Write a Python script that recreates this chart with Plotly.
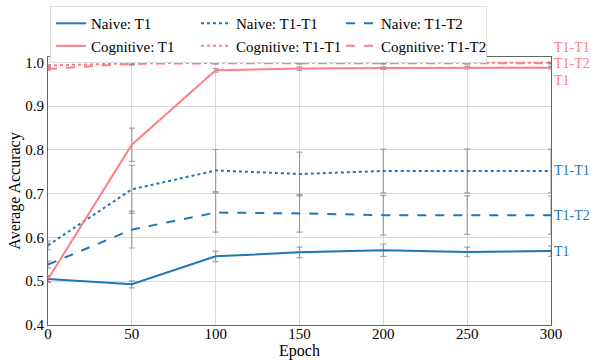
import plotly.graph_objects as go

epochs = [0, 50, 100, 150, 200, 250, 300]

naive_t1 = [0.505, 0.493, 0.557, 0.566, 0.571, 0.567, 0.569]
naive_t1_err = [0.006, 0.008, 0.012, 0.012, 0.014, 0.011, 0.012]
naive_t1t1 = [0.582, 0.710, 0.753, 0.745, 0.752, 0.752, 0.752]
naive_t1t1_err = [0.010, 0.055, 0.048, 0.050, 0.050, 0.050, 0.050]
naive_t1t2 = [0.538, 0.618, 0.657, 0.655, 0.651, 0.651, 0.651]
naive_t1t2_err = [0.008, 0.042, 0.045, 0.043, 0.045, 0.044, 0.044]

cog_t1 = [0.505, 0.812, 0.982, 0.986, 0.987, 0.988, 0.988]
cog_t1_err = [0.008, 0.038, 0.004, 0.004, 0.003, 0.003, 0.003]
cog_t1t1 = [0.993, 0.998, 0.999, 0.999, 0.999, 0.999, 0.999]
cog_t1t1_err = [0.002, 0.002, 0.001, 0.001, 0.001, 0.001, 0.001]
cog_t1t2 = [0.985, 0.997, 0.998, 0.998, 0.998, 0.998, 0.998]
cog_t1t2_err = [0.003, 0.003, 0.002, 0.002, 0.002, 0.002, 0.002]

BLUE = "#1f77b4"
PINK = "#ff7f87"
ERR = "rgba(120,120,120,0.65)"
FONT = "Times New Roman"

series = [
    ("Naive: T1", naive_t1, naive_t1_err, BLUE, "solid"),
    ("Naive: T1-T1", naive_t1t1, naive_t1t1_err, BLUE, "dot"),
    ("Naive: T1-T2", naive_t1t2, naive_t1t2_err, BLUE, "dash"),
    ("Cognitive: T1", cog_t1, cog_t1_err, PINK, "solid"),
    ("Cognitive: T1-T1", cog_t1t1, cog_t1t1_err, PINK, "dot"),
    ("Cognitive: T1-T2", cog_t1t2, cog_t1t2_err, PINK, "dash"),
]

fig = go.Figure()
for name, ys, es, col, dash in series:
    fig.add_trace(go.Scatter(
        x=epochs, y=ys, name=name, mode="lines",
        line=dict(color=col, width=2, dash=dash),
        error_y=dict(type="data", array=es, visible=True, color=ERR, thickness=1.2, width=3),
    ))

labels = [
    ("T1-T1", cog_t1t1[-1], PINK, 15),
    ("T1-T2", cog_t1t2[-1], PINK, 0),
    ("T1", cog_t1[-1], PINK, -13),
    ("T1-T1", naive_t1t1[-1], BLUE, 0),
    ("T1-T2", naive_t1t2[-1], BLUE, 0),
    ("T1", naive_t1[-1], BLUE, 0),
]
for txt, yv, col, ys in labels:
    fig.add_annotation(x=1.0, xref="paper", y=yv, yref="y", text=txt, showarrow=False,
                       xanchor="left", yanchor="middle", yshift=ys, xshift=2,
                       borderpad=0,
                       font=dict(family=FONT, size=14, color=col))

axis_common = dict(
    showline=True, linecolor="#666", linewidth=1, mirror=True,
    showgrid=True, gridcolor="#d9d9d9", gridwidth=1,
    ticks="",
    tickfont=dict(family=FONT, size=15, color="black"),
    zeroline=False, automargin=True,
)
fig.update_xaxes(range=[0, 300], tickvals=[0, 50, 100, 150, 200, 250, 300],
                 ticklabelstandoff=-5,
                 title=dict(text="Epoch", font=dict(family=FONT, size=16, color="black"), standoff=0),
                 **axis_common)
fig.update_yaxes(range=[0.4, 1.0124], tickvals=[0.4, 0.5, 0.6, 0.7, 0.8, 0.9, 1.0],
                 tickformat=".1f",
                 title=dict(text="Average Accuracy", font=dict(family=FONT, size=16, color="black"), standoff=0),
                 **axis_common)

fig.update_layout(
    width=591, height=360,
    margin=dict(l=48, r=40, t=57, b=35, autoexpand=False),
    plot_bgcolor="white", paper_bgcolor="white",
    font=dict(family=FONT, size=15, color="black"),
    legend=dict(orientation="h", x=0.004, y=1.19, xanchor="left", yanchor="top",
                entrywidth=100, entrywidthmode="pixels",
                bordercolor="#dddddd", borderwidth=1, bgcolor="white",
                font=dict(family=FONT, size=15), tracegroupgap=0, itemwidth=30),
    showlegend=True,
)

fig.write_html("out.html", config={"displayModeBar": False},
               post_script="document.body.style.margin='0';document.body.style.padding='0';")
